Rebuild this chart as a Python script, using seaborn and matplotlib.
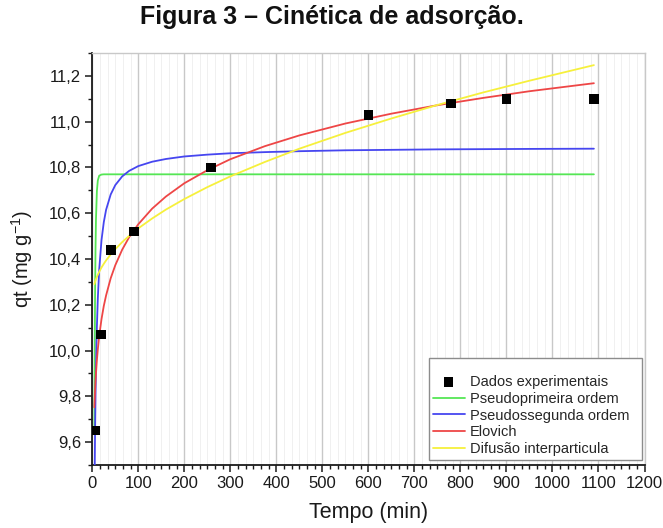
import matplotlib
matplotlib.use("Agg")
import matplotlib.pyplot as plt
import seaborn as sns
import pandas as pd
from matplotlib.ticker import AutoMinorLocator, FuncFormatter

# ---- data ----
t_exp = [6, 19, 40, 90, 258, 600, 780, 900, 1090]
q_exp = [9.65, 10.07, 10.44, 10.52, 10.80, 11.03, 11.08, 11.10, 11.10]

t_fit = [4.5, 5, 6, 7, 8, 10, 12, 15, 20, 25, 30, 40, 50, 65, 80, 100, 130,
         160, 200, 250, 300, 375, 450, 550, 650, 750, 850, 950, 1090]
q_pfo = [9.635, 9.886, 10.234, 10.445, 10.573, 10.697, 10.743, 10.764, 10.769,
         10.77, 10.77, 10.77, 10.77, 10.77, 10.77, 10.77, 10.77, 10.77, 10.77,
         10.77, 10.77, 10.77, 10.77, 10.77, 10.77, 10.77, 10.77, 10.77, 10.77]
q_pso = [9.284, 9.42, 9.64, 9.80, 9.925, 10.104, 10.227, 10.353, 10.482, 10.561,
         10.615, 10.682, 10.723, 10.761, 10.785, 10.806, 10.825, 10.837, 10.848,
         10.856, 10.862, 10.867, 10.871, 10.875, 10.877, 10.879, 10.880, 10.881, 10.882]
q_elovich = [9.752, 9.779, 9.826, 9.866, 9.900, 9.958, 10.005, 10.063, 10.137,
             10.195, 10.241, 10.316, 10.373, 10.441, 10.495, 10.552, 10.620,
             10.673, 10.731, 10.788, 10.836, 10.893, 10.940, 10.992, 11.035,
             11.072, 11.104, 11.133, 11.168]
q_difusao = [10.290, 10.293, 10.300, 10.306, 10.312, 10.322, 10.331, 10.344,
             10.363, 10.379, 10.394, 10.420, 10.443, 10.474, 10.501, 10.534,
             10.577, 10.616, 10.662, 10.714, 10.761, 10.824, 10.882, 10.951,
             11.014, 11.073, 11.128, 11.179, 11.247]

labels = ["Dados experimentais", "Pseudoprimeira ordem", "Pseudossegunda ordem",
          "Elovich", "Difusão interparticula"]
colors = ["#000000", "#55e655", "#4646f0", "#ee4646", "#f6f03c"]
y_ticks = [9.6, 9.8, 10.0, 10.2, 10.4, 10.6, 10.8, 11.0, 11.2]
x_ticks = [0, 100, 200, 300, 400, 500, 600, 700, 800, 900, 1000, 1100, 1200]

# ---- style ----
sns.set_theme(style="ticks")
plt.rcParams["font.family"] = ["Liberation Sans", "DejaVu Sans"]
plt.rcParams["mathtext.default"] = "regular"

fig = plt.figure(figsize=(6.63, 5.28), dpi=100)
ax = fig.add_axes([0.1392, 0.1193, 0.8329, 0.7803])

fits = [q_pfo, q_pso, q_elovich, q_difusao]
for q, lab, col in zip(fits, labels[1:], colors[1:]):
    df = pd.DataFrame({"t": t_fit, "q": q})
    sns.lineplot(data=df, x="t", y="q", ax=ax, color=col, lw=1.3,
                 label=lab, zorder=3)

df_exp = pd.DataFrame({"t": t_exp, "q": q_exp})
sns.scatterplot(data=df_exp, x="t", y="q", ax=ax, marker="s", s=48,
                color=colors[0], edgecolor="none", label=labels[0], zorder=5)

ax.set_xlim(0, 1200)
ax.set_ylim(9.5, 11.3)
ax.set_xticks(x_ticks)
ax.set_yticks(y_ticks)
ax.xaxis.set_minor_locator(AutoMinorLocator(6))
ax.yaxis.set_minor_locator(AutoMinorLocator(2))
ax.yaxis.set_major_formatter(FuncFormatter(lambda v, p: f"{v:.1f}".replace(".", ",")))
ax.xaxis.set_major_formatter(FuncFormatter(lambda v, p: f"{int(round(v))}"))

ax.set_axisbelow(True)
ax.xaxis.grid(True, which="major", color="#c8c8c8", lw=1.0)
ax.xaxis.grid(True, which="minor", color="#eeeeee", lw=0.6)
ax.yaxis.grid(False)

for s in ["left", "bottom"]:
    ax.spines[s].set_color("#1a1a1a")
    ax.spines[s].set_linewidth(1.3)
for s in ["top", "right"]:
    ax.spines[s].set_color("#c8c8c8")
    ax.spines[s].set_linewidth(1.0)

ax.tick_params(which="major", direction="out", length=5, width=1.1,
               labelsize=12, colors="#1a1a1a", pad=3)
ax.tick_params(which="minor", direction="out", length=2.8, width=1.0,
               colors="#1a1a1a")

ax.set_xlabel("Tempo (min)", fontsize=15.5, color="#1a1a1a", labelpad=8)
ax.set_ylabel("qt (mg g$^{-1}$)", fontsize=14.5, color="#1a1a1a", labelpad=10)

fig.text(0.5, 1 - 17 / 528, "Figura 3 – Cinética de adsorção.",
         ha="center", va="center", fontsize=18, fontweight="bold", color="#111111")

handles, labs = ax.get_legend_handles_labels()
order = [labs.index(l) for l in labels]
leg = ax.legend([handles[i] for i in order], [labs[i] for i in order],
                loc="lower left", bbox_to_anchor=(0.6097, 0.0121, 0.3857, 0.0),
                mode="expand", borderaxespad=0, fontsize=10.5,
                frameon=True, fancybox=False, framealpha=1,
                edgecolor="#8c8c8c", handlelength=2.2, handletextpad=0.35,
                labelspacing=0.2, borderpad=0.25, scatterpoints=1,
                title=" ", title_fontsize=8)
leg.get_frame().set_linewidth(1.0)

fig.savefig("out.png", dpi=100, facecolor="white")
